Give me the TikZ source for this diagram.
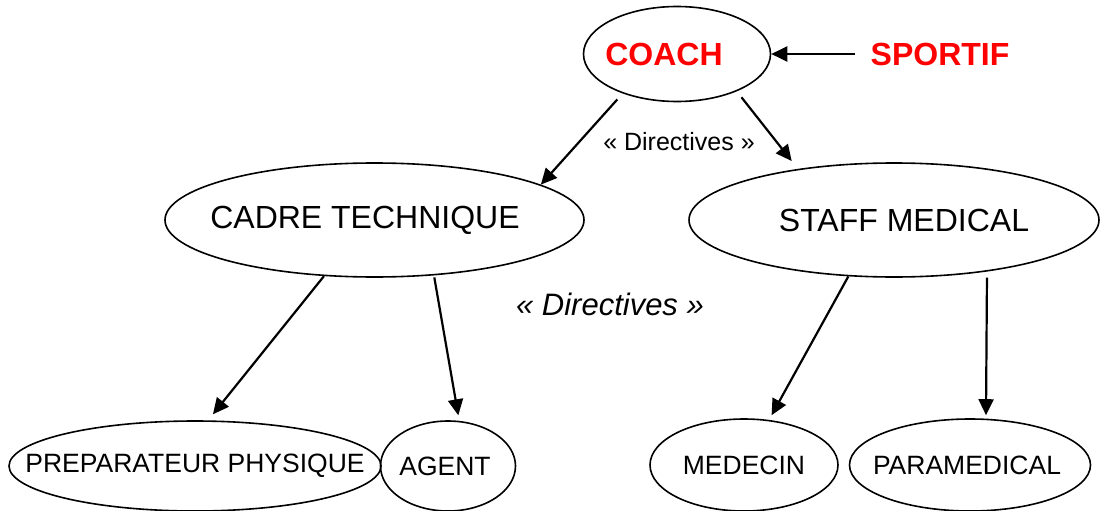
\documentclass[tikz,border=0pt]{standalone}
\usepackage{fontspec}
\setmainfont{Liberation Sans}
\usetikzlibrary{arrows.meta,shapes.geometric}
% text set on a zero-width box, so the ellipse keeps its own size;
% the optional argument moves the text sideways by half its value
\newcommand{\ellbl}[2][0pt]{\makebox[0pt]{\hspace*{#1}#2}}
\tikzset{
  bubble/.style={draw, ellipse, line width=1.6pt, inner sep=0pt,
    font=\fontsize{32}{38}\selectfont},
  smallbubble/.style={bubble, font=\fontsize{26.5}{31}\selectfont},
  redlbl/.style={text=red, font=\fontsize{32}{38}\selectfont\bfseries},
  dirlbl/.style={anchor=base, font=\fontsize{25}{30}\selectfont},
  bigdirlbl/.style={anchor=base, font=\fontsize{31}{37}\selectfont\itshape},
  arrow/.style={-{Triangle[length=16pt,width=15pt]}, line width=2.2pt},
}

\begin{document}
\begin{tikzpicture}[x=1pt, y=-1pt]
\useasboundingbox (0,0) rectangle (1100,511);

% ---- top ---------------------------------------------------------------
\node[bubble, minimum width=187pt, minimum height=95pt, redlbl] (coach) at (677,54)
  {\ellbl[-26pt]{COACH}};
\node[redlbl, inner xsep=15pt, inner ysep=0pt] (sportif) at (940,54) {SPORTIF};

% ---- middle ------------------------------------------------------------
\node[bubble, minimum width=419pt, minimum height=114pt] (cadre) at (374.5,220)
  {\ellbl[-19pt]{CADRE TECHNIQUE}};
\node[bubble, minimum width=410pt, minimum height=114pt] (staff) at (894,220)
  {\ellbl[20pt]{STAFF MEDICAL}};

% ---- bottom ------------------------------------------------------------
\node[smallbubble, minimum width=372pt, minimum height=90pt] (prep) at (195,466)
  {\ellbl{PREPARATEUR PHYSIQUE}};
\node[smallbubble, minimum width=135pt, minimum height=90pt] (agent) at (448,466)
  {\ellbl[-6pt]{AGENT}};
\node[smallbubble, minimum width=188pt, minimum height=92pt] (medecin) at (744,465)
  {\ellbl{MEDECIN}};
\node[smallbubble, minimum width=241pt, minimum height=92pt] (paramed) at (970,465)
  {\ellbl[-6pt]{PARAMEDICAL}};

% ---- labels ------------------------------------------------------------
\node[dirlbl] (dirtop) at (679,150) {« Directives »};
\node[bigdirlbl] (dirmid) at (610,315) {« Directives »};

% ---- arrows ------------------------------------------------------------
\draw[arrow] (sportif) -- (coach);
\draw[arrow, shorten <=8pt] (coach.216) -- (cadre.12.7);
\draw[arrow, shorten <=7.5pt, shorten >=10pt] (coach.-32.5) -- (staff.152.5);
\draw[arrow, shorten >=7.7pt] (cadre.228.1) -- (prep.74.9);
\draw[arrow, shorten <=2pt, shorten >=5.6pt] (cadre.-43.4) -- (agent.76.1);
\draw[arrow, shorten >=5.3pt] (staff.231.5) -- (medecin.61.2);
\draw[arrow, shorten <=6pt, shorten >=3.4pt] (staff.-29.3) -- (paramed.71.8);

\end{tikzpicture}
\end{document}
